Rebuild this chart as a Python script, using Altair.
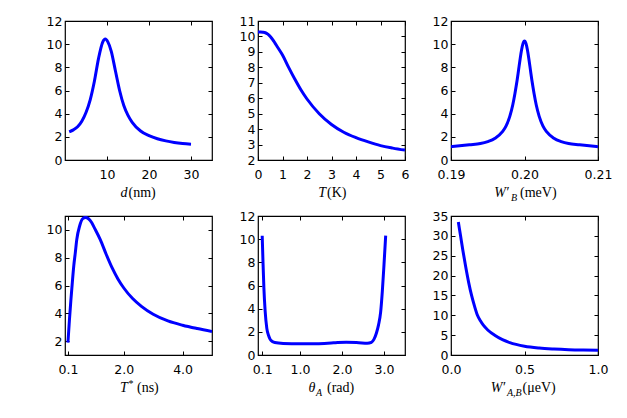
import altair as alt
import pandas as pd

# ---------------- data ----------------
d_x = [1, 2, 3, 4, 5, 6, 7, 8, 9, 9.6, 10.2, 11, 12, 13, 14, 15, 16, 18, 20, 22, 24, 26, 28, 30]
d_y = [2.43, 2.6, 2.87, 3.35, 4.1, 5.2, 6.8, 8.8, 10.2, 10.45, 10.2, 9.4, 7.7, 6.0, 4.7, 3.85,
       3.25, 2.5, 2.1, 1.83, 1.65, 1.52, 1.43, 1.37]

T_x = [0, 0.1, 0.2, 0.3, 0.4, 0.5, 0.6, 0.7, 0.8, 1.0, 1.25, 1.5, 1.75, 2.0, 2.5, 3.0, 3.5, 4.0,
       4.5, 5.0, 5.5, 6.0]
T_y = [10.28, 10.28, 10.27, 10.24, 10.15, 10.0, 9.8, 9.55, 9.3, 8.8, 8.0, 7.25, 6.55, 5.95, 5.0,
       4.3, 3.8, 3.45, 3.17, 2.93, 2.77, 2.64]

WB_x = [0.19, 0.1925, 0.194, 0.195, 0.196, 0.197, 0.1975, 0.198, 0.1984, 0.1987, 0.199, 0.1992,
        0.1994, 0.1996, 0.1998, 0.2, 0.2002, 0.2004, 0.2006, 0.2008, 0.201, 0.2013, 0.2016, 0.202,
        0.2025, 0.203, 0.204, 0.205, 0.206, 0.2075, 0.21]
WB_y = [1.15, 1.32, 1.42, 1.59, 1.88, 2.45, 2.95, 3.77, 4.75, 5.75, 6.9, 7.8, 8.7, 9.5, 10.07,
        10.28, 10.07, 9.5, 8.7, 7.8, 6.9, 5.75, 4.75, 3.77, 2.95, 2.45, 1.88, 1.59, 1.42, 1.32, 1.15]

Ts_x = [0.1, 0.15, 0.2, 0.25, 0.3, 0.35, 0.4, 0.5, 0.6, 0.7, 0.8, 0.9, 1.0, 1.2, 1.4, 1.6, 1.8,
        2.0, 2.3, 2.6, 3.0, 3.5, 4.0, 4.5, 5.0]
Ts_y = [1.89, 3.5, 4.95, 6.25, 7.45, 8.35, 9.3, 10.3, 10.8, 10.9, 10.8, 10.55, 10.15, 9.3, 8.25,
        7.28, 6.47, 5.82, 5.06, 4.5, 3.93, 3.45, 3.14, 2.9, 2.69]

th_x = [0.1, 0.12, 0.14, 0.17, 0.21, 0.25, 0.29, 0.35, 0.4, 0.6, 1.0, 1.4, 1.8, 2.1, 2.4, 2.6,
        2.7, 2.76, 2.82, 2.87, 2.92, 2.96, 3.0, 3.04]
th_y = [10.3, 7.9, 5.8, 3.8, 2.3, 1.7, 1.35, 1.15, 1.08, 1.0, 0.97, 0.98, 1.05, 1.1, 1.06, 1.02,
        1.1, 1.35, 1.9, 2.6, 3.7, 5.5, 7.8, 10.3]

WAB_x = [0.05, 0.065, 0.08, 0.1, 0.12, 0.14, 0.16, 0.18, 0.2, 0.22, 0.25, 0.3, 0.35, 0.4, 0.5,
         0.6, 0.7, 0.8, 0.9, 1.0]
WAB_y = [33.5, 30.0, 26.5, 22.2, 18.3, 15.0, 12.3, 10.0, 8.6, 7.5, 6.3, 4.9, 3.85, 3.1, 2.2,
         1.75, 1.5, 1.33, 1.23, 1.17]

# tick values
ticks_d_x = [10, 20, 30]
ticks_0_12 = [0, 2, 4, 6, 8, 10, 12]
ticks_T_x = [0, 1, 2, 3, 4, 5, 6]
ticks_T_y = [2, 3, 4, 5, 6, 7, 8, 9, 10, 11]
ticks_WB_x = [0.19, 0.20, 0.21]
ticks_Ts_x = [0.1, 2.0, 4.0]
ticks_Ts_y = [2, 4, 6, 8, 10]
ticks_th_x = [0.1, 1.0, 2.0, 3.0]
ticks_WAB_x = [0.0, 0.5, 1.0]
ticks_WAB_y = [0, 5, 10, 15, 20, 25, 30, 35]

# ---------------- styling ----------------
W, H = 147, 139
LINE = "#0000ff"
SERIF = "Liberation Serif"


def piece(text, x, y_off=0, size=14, italic=False, align="left"):
    return alt.Chart(alt.Data(values=[{}])).mark_text(
        text=text, font=SERIF, fontSize=size,
        fontStyle="italic" if italic else "normal",
        align=align, baseline="alphabetic", color="black",
    ).encode(x=alt.value(W / 2 + x), y=alt.value(H + 37 + y_off))


def panel(xs, ys, xdom, ydom, xticks, yticks, xfmt, yfmt, title_pieces):
    df = pd.DataFrame({"x": xs, "y": ys})
    xsc = alt.Scale(domain=xdom, nice=False, zero=False)
    ysc = alt.Scale(domain=ydom, nice=False, zero=False)
    main = alt.Chart(df).mark_line(
        color=LINE, strokeWidth=3, interpolate="monotone", clip=True
    ).encode(
        x=alt.X("x:Q", scale=xsc,
                axis=alt.Axis(values=xticks, format=xfmt, title=None, orient="bottom",
                              labelPadding=8)),
        y=alt.Y("y:Q", scale=ysc,
                axis=alt.Axis(values=yticks, format=yfmt, title=None, orient="left",
                              labelPadding=3)),
    )
    ghost = alt.Chart(df).mark_line(opacity=0).encode(
        x=alt.X("x:Q", scale=xsc,
                axis=alt.Axis(values=xticks, labels=False, title=None, orient="top")),
        y=alt.Y("y:Q", scale=ysc,
                axis=alt.Axis(values=yticks, labels=False, title=None, orient="right")),
    )
    return alt.layer(main, ghost, *title_pieces).resolve_scale(
        x="independent", y="independent"
    ).properties(width=W, height=H)


p1 = panel(d_x, d_y, [0, 35], [0, 12], ticks_d_x, ticks_0_12, "d", "d",
           [piece("d", -11, italic=True, align="right"), piece("(nm)", -10)])
p2 = panel(T_x, T_y, [0, 6], [2, 11], ticks_T_x, ticks_T_y, "d", "d",
           [piece("T", -5.5, italic=True, align="right"), piece("(K)", -4.5)])
p3 = panel(WB_x, WB_y, [0.19, 0.21], [0, 12], ticks_WB_x, ticks_0_12, ".2f", "d",
           [piece("W", -18.5, italic=True, align="right"), piece("\u2032", -18),
            piece("B", -13.5, y_off=4, size=10, italic=True), piece("(meV)", -4.5)])
p4 = panel(Ts_x, Ts_y, [0, 5], [1, 11], ticks_Ts_x, ticks_Ts_y, ".1f", "d",
           [piece("T", -10.6, italic=True, align="right"), piece("*", -10, y_off=-5, size=10),
            piece("(ns)", -1.5)])
p5 = panel(th_x, th_y, [0, 3.5], [0, 12], ticks_th_x, ticks_0_12, ".1f", "d",
           [piece("\u03b8", -16, italic=True, align="right"),
            piece("A", -15.5, y_off=4, size=10, italic=True), piece("(rad)", -4.5)])
p6 = panel(WAB_x, WAB_y, [0, 1], [0, 35], ticks_WAB_x, ticks_WAB_y, ".1f", "d",
           [piece("W", -22, italic=True, align="right"), piece("\u2032", -21.5),
            piece("A,B", -17.5, y_off=4, size=10, italic=True), piece("(\u03bceV)", -2)])

chart = alt.concat(
    p1, p2, p3, p4, p5, p6, columns=3, spacing={"row": 56, "column": 46}, bounds="flush"
).properties(
    padding={"left": 37, "top": 6, "right": 5, "bottom": 5}
).configure_view(
    stroke="black", strokeWidth=1.2
).configure_axis(
    domain=False, grid=False, tickColor="black", tickSize=4, tickWidth=1, offset=-4,
    labelFont="DejaVu Sans", labelFontSize=12.5, labelColor="black",
    labelFlush=False, labelOverlap=False,
)

chart.save("out.html", embed_options={"renderer": "svg", "actions": False})
